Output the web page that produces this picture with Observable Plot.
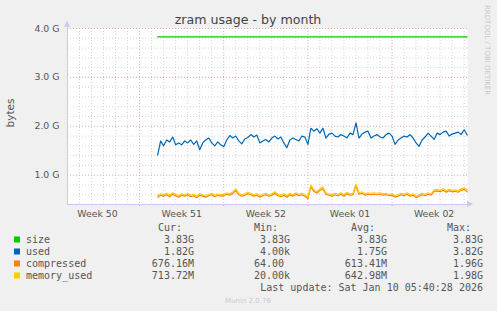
<!DOCTYPE html>
<html><head><meta charset="utf-8">
<script src="https://cdn.jsdelivr.net/npm/d3@7"></script>
<script src="https://cdn.jsdelivr.net/npm/@observablehq/plot@0.6"></script>
<style>body{margin:0;background:#f0f0f0}#chart{width:497px;height:311px}</style>
</head><body><div id="chart"></div>
<script>
// ---- data ----
const seriesNames = ["size", "used", "compressed", "memory_used"];
const seriesColors = ["#00cc00", "#0066b3", "#ff8000", "#ffcc00"];
const curVals = ["3.83G", "1.82G", "676.16M", "713.72M"];
const minVals = ["3.83G", "4.00k", "64.00 ", "20.00k"];
const avgVals = ["3.83G", "1.75G", "613.41M", "642.98M"];
const maxVals = ["3.83G", "3.82G", "1.96G", "1.98G"];
const lastUpdate = "Last update: Sat Jan 10 05:40:28 2026";

const yTickValues = [1, 2, 3, 4];
const yMinorValues = [0.6, 0.8, 1.2, 1.4, 1.6, 1.8, 2.2, 2.4, 2.6, 2.8, 3.2, 3.4, 3.6, 3.8];
const weekLabels = ["Week 50", "Week 51", "Week 52", "Week 01", "Week 02"];
const weekMidpoints = ["2025-12-11T12:00Z", "2025-12-18T12:00Z", "2025-12-25T12:00Z", "2026-01-01T12:00Z", "2026-01-08T12:00Z"];
const weekStarts = ["2025-12-15T00:00Z", "2025-12-22T00:00Z", "2025-12-29T00:00Z", "2026-01-05T00:00Z"];
const domainStart = "2025-12-09T00:00Z";
const domainEnd = "2026-01-11T06:40Z";

// samples every 6 hours from the first sample
const firstSample = "2025-12-16T12:00Z";
const sampleHours = 6;
const sizeValue = 3.83; // G
const usedValues = [
1.41,1.70,1.60,1.72,1.68,1.78,1.62,1.66,1.62,1.70,
1.66,1.72,1.63,1.70,1.52,1.66,1.72,1.76,1.66,1.60,
1.68,1.62,1.58,1.72,1.81,1.76,1.80,1.70,1.64,1.74,
1.77,1.83,1.78,1.82,1.66,1.70,1.73,1.68,1.76,1.80,
1.74,1.78,1.66,1.56,1.72,1.76,1.73,1.70,1.80,1.78,
1.63,1.96,1.90,1.95,1.86,1.96,1.76,1.84,1.86,1.80,
1.78,1.83,1.80,1.76,1.86,1.83,2.07,1.76,1.84,1.88,
1.90,1.76,1.80,1.83,1.78,1.76,1.83,1.86,1.80,1.63,
1.72,1.76,1.80,1.78,1.83,1.76,1.66,1.59,1.72,1.78,
1.86,1.80,1.73,1.86,1.83,1.88,1.90,1.80,1.84,1.86,
1.88,1.83,1.93,1.82];
const memoryUsedValues = [
0.58,0.62,0.60,0.63,0.59,0.64,0.61,0.58,0.62,0.60,
0.63,0.59,0.61,0.57,0.62,0.60,0.58,0.61,0.63,0.59,
0.62,0.60,0.61,0.64,0.62,0.66,0.72,0.63,0.60,0.62,
0.65,0.63,0.60,0.62,0.58,0.61,0.63,0.60,0.62,0.66,
0.61,0.59,0.62,0.58,0.63,0.60,0.64,0.61,0.63,0.60,
0.55,0.80,0.70,0.66,0.72,0.76,0.64,0.62,0.60,0.63,
0.61,0.64,0.60,0.65,0.62,0.63,0.82,0.64,0.66,0.62,
0.64,0.63,0.64,0.63,0.64,0.62,0.63,0.61,0.62,0.58,
0.60,0.63,0.61,0.64,0.60,0.62,0.57,0.60,0.63,0.61,
0.64,0.62,0.70,0.71,0.69,0.72,0.68,0.71,0.69,0.70,
0.68,0.72,0.74,0.70];
const compressedValues = [
0.55,0.59,0.57,0.60,0.56,0.61,0.58,0.55,0.59,0.57,
0.60,0.56,0.58,0.54,0.59,0.57,0.55,0.58,0.60,0.56,
0.59,0.57,0.58,0.61,0.59,0.63,0.68,0.60,0.57,0.59,
0.62,0.60,0.57,0.59,0.55,0.58,0.60,0.57,0.59,0.63,
0.58,0.56,0.59,0.55,0.60,0.57,0.61,0.58,0.60,0.57,
0.52,0.76,0.67,0.63,0.69,0.72,0.61,0.59,0.57,0.60,
0.58,0.61,0.57,0.62,0.59,0.60,0.78,0.61,0.63,0.59,
0.61,0.60,0.61,0.60,0.61,0.59,0.60,0.58,0.59,0.55,
0.57,0.60,0.58,0.61,0.57,0.59,0.54,0.57,0.60,0.58,
0.61,0.59,0.67,0.68,0.66,0.69,0.65,0.68,0.66,0.67,
0.65,0.69,0.71,0.66];

// ---- build tables ----
const t0 = new Date(firstSample).getTime();
const timeAt = i => new Date(t0 + i * sampleHours * 3600e3);
const toRows = (vals, name) => vals.map((v, i) => ({t: timeAt(i), v, name}));
const usedRows = toRows(usedValues, "used");
const memRows = toRows(memoryUsedValues, "memory_used");
const compRows = toRows(compressedValues, "compressed");
const lastT = timeAt(usedValues.length - 1);
const sizeRows = [{t: new Date(firstSample), v: sizeValue}, {t: lastT, v: sizeValue}];

const x0 = new Date(domainStart), x1 = new Date(domainEnd);
const weekDates = weekStarts.map(d => new Date(d));
const weekSet = new Set(weekDates.map(d => +d));
const dayLines = d3.utcDay.range(d3.utcDay.offset(x0, 1), x1).filter(d => !weekSet.has(+d));
const midDates = weekMidpoints.map(d => new Date(d));

const axisColor = "#c8c8f0";
const minorColor = "#d4d4d4";
const majorColor = "#e6a4a4";

const chart = Plot.plot({
  width: 497, height: 311,
  marginLeft: 67, marginRight: 30, marginTop: 28, marginBottom: 107,
  style: {background: "#f0f0f0", fontFamily: "DejaVu Sans"},
  x: {type: "utc", domain: [x0, x1], axis: null},
  y: {domain: [0.4, 4.0], axis: null},
  marks: [
    Plot.frame({fill: "white", stroke: "none"}),
    Plot.ruleY(yMinorValues, {stroke: minorColor, strokeDasharray: "1,2"}),
    Plot.ruleX(dayLines, {stroke: minorColor, strokeDasharray: "1,2"}),
    Plot.ruleY(yTickValues, {stroke: majorColor, strokeDasharray: "1,2"}),
    Plot.ruleX(weekDates, {y1: 0.36, y2: 4.0, stroke: majorColor, strokeDasharray: "1,2"}),
    Plot.line(sizeRows, {x: "t", y: "v", stroke: seriesColors[0], strokeWidth: 1.2}),
    Plot.line(usedRows, {x: "t", y: "v", stroke: seriesColors[1], strokeWidth: 1.2}),
    Plot.line(compRows, {x: "t", y: "v", stroke: seriesColors[2], strokeWidth: 1.2}),
    Plot.line(memRows, {x: "t", y: "v", stroke: seriesColors[3], strokeWidth: 1.2}),
    Plot.ruleY([0.4], {x1: x0, x2: new Date(+x1 + 0.42 * 86400e3), stroke: axisColor}),
    Plot.ruleX([x0], {y1: 0.4, y2: 4.13, stroke: axisColor}),
    Plot.text(yTickValues, {y: d => d, frameAnchor: "left", dx: -8, textAnchor: "end", lineAnchor: "middle",
      text: d => d.toFixed(1) + " G", fill: "#555", fontSize: 9.33}),
    Plot.text(midDates, {x: d => d, frameAnchor: "bottom", dy: 12.5, lineAnchor: "bottom", textAnchor: "middle",
      text: (d, i) => weekLabels[i], fill: "#555", fontSize: 9.33})
  ]
});
document.getElementById("chart").appendChild(chart);

// ---- decorations & texts ----
const svg = d3.select(chart);
const sx = chart.scale("x"), sy = chart.scale("y");
const ax = sx.apply(x0), ay = sy.apply(0.4);
const topY = sy.apply(4.13), rightX = sx.apply(new Date(+x1 + 0.42 * 86400e3));
svg.append("path").attr("d", `M${ax - 3},${topY + 5}L${ax},${topY - 1}L${ax + 3},${topY + 5}Z`).attr("fill", axisColor);
svg.append("path").attr("d", `M${rightX - 5},${ay - 3}L${rightX + 1},${ay}L${rightX - 5},${ay + 3}Z`).attr("fill", axisColor);

svg.append("text").attr("x", 248).attr("y", 24).attr("text-anchor", "middle")
  .attr("font-family", "DejaVu Sans").attr("font-size", 12.6).attr("fill", "#444").text("zram usage - by month");
svg.append("text").attr("transform", "translate(14,113) rotate(-90)").attr("text-anchor", "middle")
  .attr("font-family", "DejaVu Sans").attr("font-size", 10.5).attr("fill", "#555").text("bytes");
svg.append("text").attr("transform", "translate(485,5) rotate(90)").attr("text-anchor", "start")
  .attr("font-family", "DejaVu Sans").attr("font-size", 7).attr("fill", "#c8c8c8").text("RRDTOOL / TOBI OETIKER");

const mono = "DejaVu Sans Mono";
const lg = svg.append("g").attr("font-family", mono).attr("font-size", 10).attr("fill", "#555").attr("text-anchor", "start");
const headers = [["Cur:", 158], ["Min:", 254], ["Avg:", 351], ["Max:", 447]];
headers.forEach(([h, x]) => lg.append("text").attr("x", x).attr("y", 231).attr("text-anchor", "start").text(h));
const colEdges = [194, 290, 387, 483];
const cols = [curVals, minVals, avgVals, maxVals];
seriesNames.forEach((name, i) => {
  const y = 243 + 12 * i;
  svg.append("rect").attr("x", 14).attr("y", y - 6.5).attr("width", 6).attr("height", 6).attr("fill", seriesColors[i]);
  lg.append("text").attr("x", 26).attr("y", y).attr("text-anchor", "start").text(name);
  cols.forEach((col, c) => {
    lg.append("text").attr("x", colEdges[c]).attr("y", y).attr("text-anchor", "end")
      .attr("xml:space", "preserve").style("white-space", "pre").text(col[i]);
  });
});
lg.append("text").attr("x", 483).attr("y", 291).attr("text-anchor", "end").style("white-space", "pre").text(lastUpdate);
svg.append("text").attr("x", 248).attr("y", 303).attr("text-anchor", "middle")
  .attr("font-family", "DejaVu Sans").attr("font-size", 7).attr("fill", "#cccccc").text("Munin 2.0.76");
</script></body></html>
